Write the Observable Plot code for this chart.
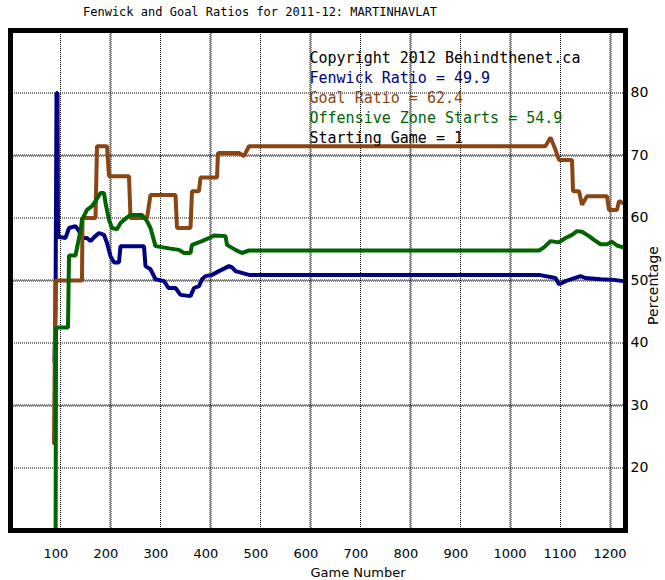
<!DOCTYPE html>
<html>
<head>
<meta charset="utf-8">
<script src="https://cdn.jsdelivr.net/npm/d3@7"></script>
<script src="https://cdn.jsdelivr.net/npm/@observablehq/plot@0.6"></script>
<style>
  html, body { margin: 0; padding: 0; background: #fff; }
</style>
</head>
<body>
<div id="chart"></div>
<script>
const titleText = "Fenwick and Goal Ratios for 2011-12: MARTINHAVLAT";
const xLabel = "Game Number";
const yLabel = "Percentage";
const legendLines = [
  "Copyright 2012 Behindthenet.ca",
  "Fenwick Ratio = 49.9",
  "Goal Ratio = 62.4",
  "Offensive Zone Starts = 54.9",
  "Starting Game = 1"
];
const legendColors = ["#000000", "#000080", "#8B4513", "#006400", "#000000"];

const xTicks = [100, 200, 300, 400, 500, 600, 700, 800, 900, 1000, 1100, 1200];
const yTicks = [20, 30, 40, 50, 60, 70, 80];
const xDotted = [100, 300, 500, 700, 900, 1100];
const xHatched = [200, 400, 600, 800, 1000, 1200];
const yDotted = [20, 40, 60, 80];
const yHatched = [30, 50, 70];

const fenwickGame = [88, 90, 92, 94, 95, 110, 117, 130, 137, 143, 153, 160, 167, 177, 187, 193, 200, 207, 217, 220, 267, 270, 280, 290, 307, 316, 330, 340, 360, 367, 377, 383, 390, 403, 417, 437, 443, 450, 477, 1057, 1090, 1097, 1103, 1110, 1140, 1150, 1180, 1207, 1225];
const fenwickValue = [37, 45, 80, 80, 57, 56.8, 58.4, 58.7, 57.9, 56.8, 56.8, 56.3, 56.9, 57.6, 57.3, 56, 53.9, 52.9, 52.9, 55.5, 55.5, 52.3, 51.8, 50.2, 49.9, 48.8, 48.8, 47.7, 47.5, 48.8, 49.1, 50.2, 50.7, 50.9, 51.5, 52.3, 52.1, 51.5, 50.9, 50.9, 50.4, 49.4, 49.6, 49.9, 50.7, 50.4, 50.2, 50.1, 49.9];

const goalGame = [87, 90, 143, 144, 170, 173, 193, 197, 237, 240, 273, 280, 330, 333, 360, 363, 377, 380, 413, 415, 457, 467, 477, 1070, 1080, 1090, 1097, 1123, 1125, 1137, 1143, 1153, 1193, 1197, 1213, 1217, 1225];
const goalValue = [24, 50, 50, 60, 60, 71.5, 71.5, 66.7, 66.7, 60, 60, 63.7, 63.7, 58.4, 58.4, 64.3, 64.3, 66.5, 66.5, 70.4, 70.4, 69.9, 71.5, 71.5, 72.9, 70.9, 69.3, 69.3, 64.3, 64.3, 62.1, 63.5, 63.5, 61.3, 61.3, 62.7, 62.4];

const ozGame = [90, 91, 97, 115, 117, 130, 135, 140, 143, 153, 163, 170, 180, 187, 190, 197, 203, 213, 220, 230, 240, 263, 273, 280, 290, 320, 337, 347, 360, 363, 383, 397, 407, 430, 433, 450, 463, 477, 1057, 1067, 1080, 1097, 1110, 1123, 1133, 1143, 1157, 1167, 1180, 1193, 1203, 1213, 1225];
const ozValue = [0, 42.4, 42.5, 42.5, 54, 54, 56, 57.9, 59.7, 61.3, 61.9, 62.7, 64, 64, 62.4, 59.7, 58.4, 58.2, 59.2, 59.9, 60.5, 60.5, 59.5, 58.4, 55.5, 55.1, 54.9, 54.4, 54.4, 55.7, 56.3, 56.8, 57.2, 57.1, 55.7, 54.9, 54.4, 54.8, 54.8, 55.3, 56.3, 56.1, 56.8, 57.3, 57.9, 57.8, 57.1, 56.5, 55.8, 55.8, 56.2, 55.6, 55.3];

const toRows = (gs, vs) => gs.map((g, i) => ({game: g, value: vs[i]}));
const fenwick = toRows(fenwickGame, fenwickValue);
const goal = toRows(goalGame, goalValue);
const oz = toRows(ozGame, ozValue);

const mono = "'DejaVu Sans Mono', monospace";
const sans = "'DejaVu Sans', sans-serif";
const dash = {stroke: "black", strokeWidth: 1, strokeDasharray: "1,1"};

const legendMarks = legendLines.map((t, i) =>
  Plot.text([t], {
    frameAnchor: "top-left", textAnchor: "start", lineAnchor: "middle",
    dx: 299, dy: 28 + 20 * i,
    fontSize: 15, fontFamily: mono,
    fill: legendColors[i]
  })
);

const chart = Plot.plot({
  width: 665,
  height: 580,
  marginLeft: 10,
  marginRight: 40,
  marginTop: 30,
  marginBottom: 50,
  x: {domain: [0, 1230]},
  y: {domain: [10, 90]},
  style: {background: "white", fontFamily: sans},
  marks: [
    Plot.ruleX(xDotted, {...dash}),
    Plot.ruleX(xHatched, {...dash, dx: -0.5}),
    Plot.ruleX(xHatched, {...dash, dx: 0.5, strokeDashoffset: 1}),
    Plot.ruleY(yDotted, {...dash}),
    Plot.ruleY(yHatched, {...dash, dy: -0.5}),
    Plot.ruleY(yHatched, {...dash, dy: 0.5, strokeDashoffset: 1}),
    Plot.line(fenwick, {x: "game", y: "value", stroke: "#000080", strokeWidth: 4, clip: true, strokeLinejoin: "miter"}),
    Plot.line(goal, {x: "game", y: "value", stroke: "#8B4513", strokeWidth: 4, clip: true, strokeLinejoin: "miter"}),
    Plot.line(oz, {x: "game", y: "value", stroke: "#006400", strokeWidth: 4, clip: true, strokeLinejoin: "miter"}),
    Plot.frame({stroke: "black", strokeWidth: 5}),
    Plot.axisX(xTicks, {anchor: "bottom", tickSize: 0, tickPadding: 18, textAnchor: "start", dx: -17, fontSize: 13, fontFamily: sans, label: null, tickFormat: d => String(d)}),
    Plot.axisY(yTicks, {anchor: "right", tickSize: 0, tickPadding: 5, fontSize: 14, fontFamily: sans, label: null, tickFormat: d => String(d)}),
    Plot.text([titleText], {frameAnchor: "top", textAnchor: "middle", lineAnchor: "middle", dx: -58, dy: -18, fontSize: 12, fontFamily: mono, fill: "black"}),
    Plot.text([xLabel], {frameAnchor: "bottom", textAnchor: "middle", lineAnchor: "middle", dx: 40, dy: 42, fontSize: 13, fontFamily: sans, fill: "black"}),
    Plot.text([yLabel], {frameAnchor: "right", textAnchor: "middle", lineAnchor: "middle", dx: 28, dy: 5, rotate: -90, fontSize: 14, fontFamily: sans, fill: "black"}),
    ...legendMarks
  ]
});
document.getElementById("chart").appendChild(chart);
</script>
</body>
</html>
